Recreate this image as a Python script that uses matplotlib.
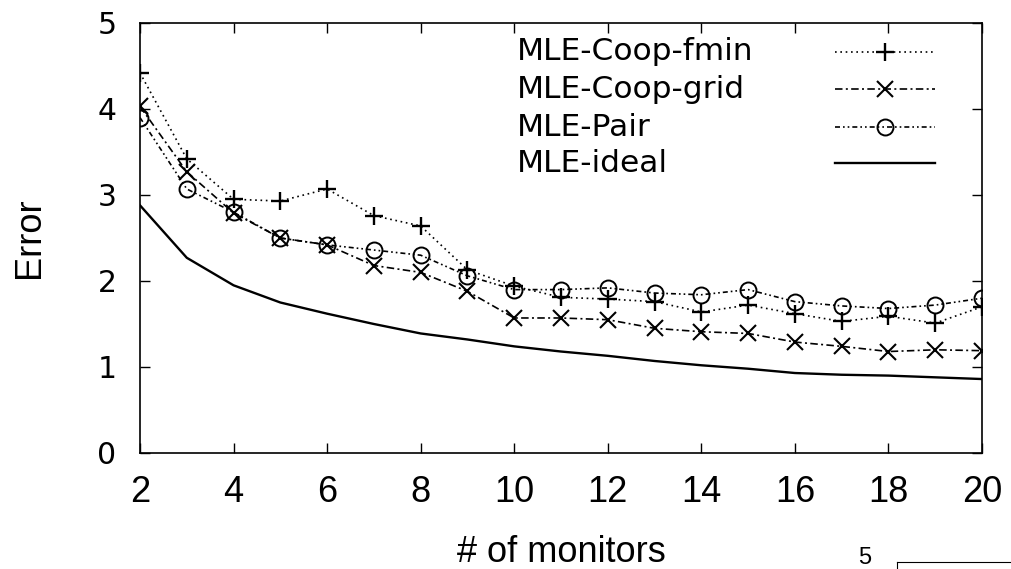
import matplotlib
matplotlib.use("Agg")
import matplotlib.pyplot as plt
from matplotlib.lines import Line2D

plt.rcParams['font.family'] = ['Liberation Sans', 'DejaVu Sans']

monitors = list(range(2, 21))
coop_fmin = [4.42, 3.42, 2.95, 2.93, 3.07, 2.76, 2.64, 2.13, 1.94, 1.81, 1.79, 1.76, 1.64, 1.72, 1.62, 1.53, 1.59, 1.51, 1.70]
coop_grid = [4.03, 3.27, 2.79, 2.50, 2.42, 2.18, 2.10, 1.88, 1.57, 1.57, 1.55, 1.45, 1.41, 1.39, 1.29, 1.24, 1.18, 1.20, 1.19]
pair = [3.90, 3.07, 2.80, 2.50, 2.42, 2.36, 2.30, 2.06, 1.90, 1.90, 1.92, 1.86, 1.84, 1.90, 1.76, 1.71, 1.68, 1.72, 1.80]
ideal = [2.88, 2.27, 1.95, 1.75, 1.62, 1.50, 1.39, 1.32, 1.24, 1.18, 1.13, 1.07, 1.02, 0.98, 0.93, 0.91, 0.90, 0.88, 0.86]

labels = ["MLE-Coop-fmin", "MLE-Coop-grid", "MLE-Pair", "MLE-ideal"]
xticks = list(range(2, 21, 2))
yticks = [0, 1, 2, 3, 4, 5]

fig = plt.figure(figsize=(10.12, 5.69), dpi=100)
ax = fig.add_axes([140/1012, 1-453/569, 842/1012, 430/569])

lw = 1.2
styles = [
    dict(ls=(0, (1, 2.2)), marker='+', ms=13, mew=1.7),
    dict(ls=(0, (4.5, 2, 1.2, 2)), marker='x', ms=11.5, mew=1.5),
    dict(ls=(0, (3, 1.8, 1, 1.8, 1, 1.8)), marker='o', ms=11.5, mew=1.4, mfc='none'),
    dict(ls='-', marker=None, lw=1.7),
]
series = [coop_fmin, coop_grid, pair, ideal]
for vals, st in zip(series, styles):
    kw = dict(color='black', lw=lw)
    kw.update(st)
    ax.plot(monitors, vals, **kw)

ax.set_xlim(2, 20)
ax.set_ylim(0, 5)
ax.set_xticks(xticks)
ax.set_yticks(yticks)
ax.tick_params(direction='in', length=7, width=1, top=True, right=True, colors='black')
ax.tick_params(axis='x', pad=16, labelsize=26)
ax.tick_params(axis='y', pad=17, labelsize=21.5)
for lab in ax.get_yticklabels():
    lab.set_family(['DejaVu Sans'])
for s in ax.spines.values():
    s.set_linewidth(1.2)
ax.set_xlabel("# of monitors", fontsize=26, labelpad=18)
ax.set_ylabel("Error", fontsize=26, labelpad=36)

# manual gnuplot-style legend
ty = [0.9326, 0.8465, 0.7581, 0.6744]
for lab, st, y in zip(labels, styles, ty):
    ax.text(0.4477, y, lab, transform=ax.transAxes, fontsize=22.5,
            family=['DejaVu Sans'], va='center', ha='left')
    kw = dict(color='black', lw=lw)
    kw.update(st)
    ln = Line2D([0.8254, 0.8848, 0.9442], [y, y, y], transform=ax.transAxes,
                markevery=[1], **kw)
    ax.add_line(ln)

# fragment of neighbouring figure in the bottom-right corner
fig.text(865/1012, 1-564/569, "5", fontsize=17, ha='center', va='baseline')
ax2 = fig.add_axes([897/1012, -0.05, 0.2, 1-562/569 + 0.05])
ax2.set_xticks([]); ax2.set_yticks([])
ax2.spines['right'].set_visible(False)
ax2.spines['bottom'].set_visible(False)

fig.savefig("out.png", dpi=100)
